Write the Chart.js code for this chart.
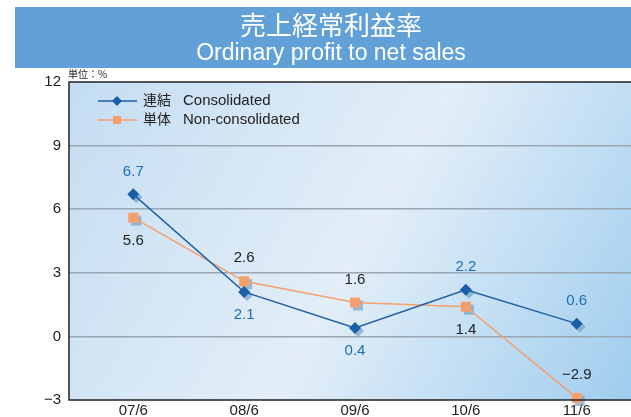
<!DOCTYPE html>
<html>
<head>
<meta charset="utf-8">
<script src="https://cdn.jsdelivr.net/npm/chart.js@4"></script>
<style>
  html, body { margin: 0; padding: 0; background: #fff; }
  #wrap { position: relative; width: 631px; height: 417px; }
</style>
</head>
<body>
<div id="wrap"><canvas id="c" width="631" height="417"></canvas></div>
<script>
// Data
const periods = ['07/6', '08/6', '09/6', '10/6', '11/6'];
const consolidated = [6.7, 2.1, 0.4, 2.2, 0.6];
const nonConsolidated = [5.6, 2.6, 1.6, 1.4, -2.9];
const yTicks = [-3, 0, 3, 6, 9, 12];
// label position for each point: 'a' = above, 'b' = below
const consPos = ['a', 'b', 'b', 'a', 'a'];
const nonPos = ['b', 'a', 'a', 'b', 'a'];

const BLUE = '#1c5fa9';
const ORANGE = '#f5a06c';
const FONT = '"Liberation Sans", Arial, sans-serif';
const JFONT = '"Noto Sans CJK JP", "Liberation Sans", sans-serif';

// Helpers
function drawDiamond(ctx, x, y, r, color) {
    ctx.fillStyle = color;
    ctx.beginPath();
    ctx.moveTo(x, y - r); ctx.lineTo(x + r, y); ctx.lineTo(x, y + r); ctx.lineTo(x - r, y);
    ctx.closePath();
    ctx.fill();
}
function drawSquare(ctx, x, y, r, color) {
    ctx.fillStyle = color;
    ctx.fillRect(x - r, y - r, r * 2, r * 2);
}

const backdrop = {
    id: 'backdrop',
    beforeDraw(chart) {
        const { ctx, chartArea: a } = chart;
        ctx.save();
        // title banner
        ctx.fillStyle = '#62a1d7';
        ctx.fillRect(15, 7, 616, 61);
        ctx.fillStyle = '#fff';
        ctx.textAlign = 'center';
        ctx.textBaseline = 'middle';
        ctx.font = '26px ' + JFONT;
        ctx.fillText('売上経常利益率', 331, 25);
        ctx.font = '23px ' + FONT;
        ctx.fillText('Ordinary profit to net sales', 331, 54);
        // unit
        ctx.fillStyle = '#222';
        ctx.textAlign = 'left';
        ctx.font = '10px ' + JFONT;
        ctx.fillText('単位：%', 68, 74);
        // plot background
        const g = ctx.createLinearGradient(a.left, a.top, a.right, a.bottom);
        g.addColorStop(0, '#c4ddf2');
        g.addColorStop(0.52, '#e3eef8');
        g.addColorStop(1, '#9fcdee');
        ctx.fillStyle = g;
        ctx.fillRect(a.left, a.top, a.right - a.left, a.bottom - a.top);
        ctx.restore();
    },
    afterDraw(chart) {
        const { ctx, chartArea: a } = chart;
        ctx.save();
        ctx.strokeStyle = '#222';
        ctx.lineWidth = 1.5;
        ctx.beginPath();
        ctx.moveTo(a.right, a.top); ctx.lineTo(a.left, a.top);
        ctx.lineTo(a.left, a.bottom); ctx.lineTo(a.right, a.bottom);
        ctx.stroke();
        ctx.restore();
    }
};

const markers = {
    id: 'markers',
    beforeDatasetsDraw(chart) {
        // marker shadows
        const ctx = chart.ctx;
        chart.data.datasets.forEach((ds, i) => {
            chart.getDatasetMeta(i).data.forEach(p => {
                if (i === 0) drawDiamond(ctx, p.x + 3, p.y + 3, 6, 'rgba(110,155,190,0.65)');
                else drawSquare(ctx, p.x + 3, p.y + 3, 5, 'rgba(110,155,190,0.65)');
            });
        });
    },
    afterDatasetsDraw(chart) {
        const ctx = chart.ctx;
        ctx.save();
        chart.data.datasets.forEach((ds, i) => {
            const meta = chart.getDatasetMeta(i);
            const pos = i === 0 ? consPos : nonPos;
            meta.data.forEach((p, j) => {
                if (i === 0) drawDiamond(ctx, p.x, p.y, 6, BLUE);
                else drawSquare(ctx, p.x, p.y, 5, ORANGE);
                ctx.fillStyle = i === 0 ? '#1e6cb8' : '#222';
                ctx.font = '15px ' + FONT;
                ctx.textAlign = 'center';
                ctx.textBaseline = 'middle';
                const v = ds.data[j].y;
                const txt = v < 0 ? '\u2212' + Math.abs(v).toFixed(1) : v.toFixed(1);
                ctx.fillText(txt, p.x, pos[j] === 'a' ? p.y - 23 : p.y + 23);
            });
        });
        // legend
        const items = [
            { name: '連結', en: 'Consolidated', color: BLUE, y: 101, shape: 'd' },
            { name: '単体', en: 'Non-consolidated', color: ORANGE, y: 120, shape: 's' }
        ];
        items.forEach(it => {
            ctx.strokeStyle = it.color;
            ctx.lineWidth = 1.5;
            ctx.beginPath(); ctx.moveTo(98, it.y); ctx.lineTo(137, it.y); ctx.stroke();
            if (it.shape === 'd') drawDiamond(ctx, 117, it.y, 5, it.color);
            else drawSquare(ctx, 117, it.y, 4, it.color);
            ctx.fillStyle = '#222';
            ctx.textAlign = 'left';
            ctx.textBaseline = 'middle';
            ctx.font = '14px ' + JFONT;
            ctx.fillText(it.name, 143, it.y - 1);
            ctx.font = '15px ' + FONT;
            ctx.fillText(it.en, 183, it.y);
        });
        ctx.restore();
    }
};

const toPoints = arr => arr.map((v, i) => ({ x: i, y: v }));

new Chart(document.getElementById('c'), {
    type: 'line',
    data: {
        datasets: [
            { label: '連結 Consolidated', data: toPoints(consolidated), borderColor: BLUE, borderWidth: 1.4, pointRadius: 0, tension: 0 },
            { label: '単体 Non-consolidated', data: toPoints(nonConsolidated), borderColor: ORANGE, borderWidth: 1.4, pointRadius: 0, tension: 0 }
        ]
    },
    options: {
        responsive: false,
        animation: false,
        clip: false,
        layout: { padding: { top: 82, right: 0, bottom: 0, left: 0 } },
        plugins: { legend: { display: false }, tooltip: { enabled: false } },
        scales: {
            x: {
                type: 'linear', min: -0.58, max: 4.49,
                afterBuildTicks: s => { s.ticks = periods.map((p, i) => ({ value: i })); },
                afterFit: s => { s.height = 17; },
                grid: { display: false, drawTicks: false },
                border: { display: false },
                ticks: { padding: 2, color: '#222', font: { size: 15, family: FONT }, callback: v => periods[v] }
            },
            y: {
                min: -3, max: 12,
                afterBuildTicks: s => { s.ticks = yTicks.map(v => ({ value: v })); },
                afterFit: s => { s.width = 69; },
                grid: {
                    drawTicks: false, lineWidth: 1.5,
                    color: c => (c.tick.value === 12 || c.tick.value === -3) ? 'rgba(0,0,0,0)' : '#9aa6b2'
                },
                border: { display: false },
                ticks: {
                    padding: 8, color: '#222', font: { size: 15, family: FONT },
                    callback: v => v < 0 ? '\u2212' + Math.abs(v) : v
                }
            }
        }
    },
    plugins: [backdrop, markers]
});
</script>
</body>
</html>
